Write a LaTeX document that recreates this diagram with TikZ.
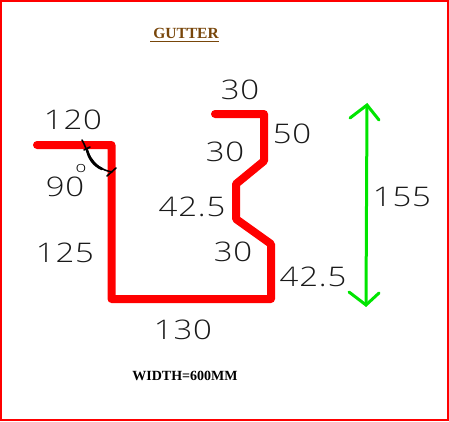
\documentclass[tikz,border=0pt]{standalone}
\usepackage{fontspec}
\setmainfont{Liberation Serif}
\newfontfamily\cadfont[FakeStretch=1.22,LetterSpace=3,UprightFont=* Light]{Open Sans}
\tikzset{
  dim/.style={font=\cadfont\fontsize{27}{27}\selectfont,text=black!90,inner sep=0pt},
  profile/.style={draw=red,line width=8pt,line cap=round,line join=round},
  hint/.style={draw=black,line width=1.6pt,line cap=round},
  measure/.style={draw=green!90!black,line width=3pt,line cap=round,line join=miter}
}
\begin{document}
\begin{tikzpicture}[x=1pt,y=-1pt]
\useasboundingbox (0,0) rectangle (449,421);
\draw[red,line width=2pt] (1,1) rectangle (448,420);
\draw[profile] (37,145) -- (111.5,145) -- (111.5,299) -- (271,299) -- (271,244) -- (236,219) -- (236,184) -- (264,161) -- (264,114) -- (215,114);
\draw[measure] (367,105) -- (366,305);
\draw[measure] (350,118) -- (367,105) -- (379,120);
\draw[measure] (349,292) -- (366,305) -- (379,293);
\draw[hint] (82,140) .. controls (88,150) and (90,168) .. (112,172);
\draw[hint,line width=2.6pt] (87,150) .. controls (89,158) and (93,165) .. (102,169);
\draw[hint] (107,176) -- (116,168);
\draw[hint] (84,150) -- (90,147);
\node[dim] (a) at (73,120) {120};
\node[dim] (b) at (65,187) {90};
\node[font=\cadfont\fontsize{15}{15}\selectfont,inner sep=0pt] (c) at (81,169) {o};
\node[dim] (d) at (65,253) {125};
\node[dim] (e) at (183,330) {130};
\node[dim] (f) at (240,90) {30};
\node[dim] (g) at (292,134) {50};
\node[dim] (h) at (225,152) {30};
\node[dim] (i) at (192,207) {42.5};
\node[dim] (j) at (233,252) {30};
\node[dim] (k) at (313,277) {42.5};
\node[dim] (l) at (402,197) {155};
\node[font=\bfseries\fontsize{15.5}{16}\selectfont,text={rgb,255:red,120;green,70;blue,10},inner sep=0pt] (t) at (186,33) {GUTTER};
\draw[draw={rgb,255:red,120;green,70;blue,10},line width=0.8pt] (150,41) -- (219,41);
\node[font=\bfseries\fontsize{14}{14}\selectfont,inner sep=0pt] (w) at (185,376) {WIDTH=600MM};
\end{tikzpicture}
\end{document}
